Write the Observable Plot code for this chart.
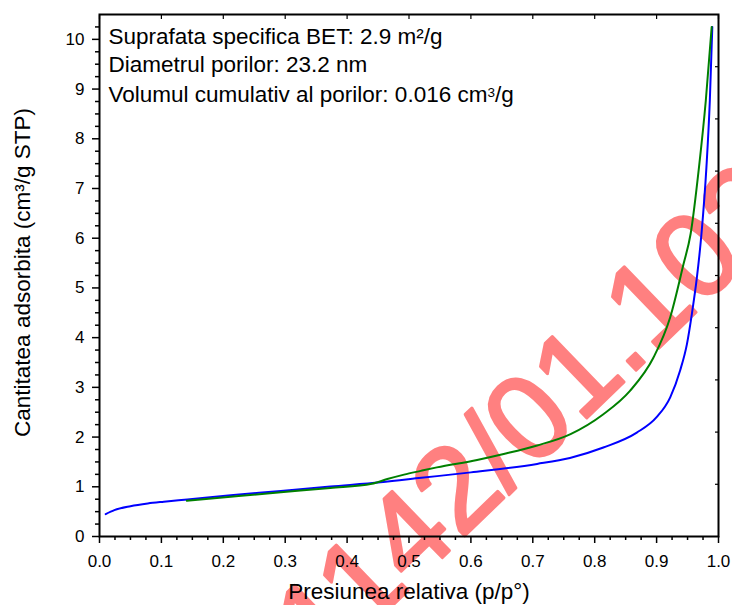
<!DOCTYPE html>
<html><head><meta charset="utf-8">
<script src="https://cdn.jsdelivr.net/npm/d3@7"></script>
<script src="https://cdn.jsdelivr.net/npm/@observablehq/plot@0.6"></script>
<style>body{margin:0;background:#fff} svg{display:block}</style>
</head><body><div id="chart"></div>
<script>
// Adsorption (blue)
const adsX = [0.010, 0.024, 0.050, 0.078, 0.104, 0.142, 0.212, 0.293, 0.373, 0.454, 0.520, 0.600, 0.707, 0.760, 0.814, 0.868, 0.900, 0.922, 0.938, 0.949, 0.957, 0.965, 0.9725, 0.9805, 0.986, 0.990];
const adsY = [0.45, 0.53, 0.61, 0.665, 0.70, 0.745, 0.83, 0.915, 1.005, 1.09, 1.18, 1.29, 1.46, 1.58, 1.79, 2.09, 2.40, 2.80, 3.34, 3.87, 4.48, 5.20, 6.09, 7.43, 8.77, 10.25];
// Desorption (green)
const desX = [0.141, 0.212, 0.293, 0.373, 0.440, 0.465, 0.492, 0.519, 0.545, 0.610, 0.653, 0.707, 0.761, 0.814, 0.857, 0.895, 0.922, 0.9435, 0.955, 0.9685, 0.9795, 0.989];
const desY = [0.72, 0.80, 0.89, 0.975, 1.06, 1.155, 1.245, 1.32, 1.39, 1.54, 1.66, 1.83, 2.06, 2.46, 2.93, 3.60, 4.41, 5.48, 6.09, 7.43, 8.77, 10.25];

const xTicks = [0, 0.1, 0.2, 0.3, 0.4, 0.5, 0.6, 0.7, 0.8, 0.9, 1.0];
const xTickLabels = ["0.0", "0.1", "0.2", "0.3", "0.4", "0.5", "0.6", "0.7", "0.8", "0.9", "1.0"];
const yTicks = [0, 1, 2, 3, 4, 5, 6, 7, 8, 9, 10];
const yTickLabels = ["0", "1", "2", "3", "4", "5", "6", "7", "8", "9", "10"];
const xDomain = [0, 1];
const yDomain = [0, 10.5];

const annotations = ["Suprafata specifica BET: 2.9 m²/g", "Diametrul porilor: 23.2 nm", "Volumul cumulativ al porilor: 0.016 cm³/g"];
const xTitle = "Presiunea relativa (p/p°)";
const yTitle = "Cantitatea adsorbita (cm³/g STP)";

const watermarkText = ["1142/01.102"];
const watermarkX = [0.3604];
const watermarkY = [-2.744];

const ads = adsX.map((x, i) => ({x, y: adsY[i]}));
const des = desX.map((x, i) => ({x, y: desY[i]}));
const wm = watermarkText.map((t, i) => ({t, x: watermarkX[i], y: watermarkY[i]}));

const xMinor = d3.range(0, 1.0001, 0.025).filter(v => Math.abs(v * 10 - Math.round(v * 10)) > 1e-6);
const yMinor = d3.range(0, 10.26, 0.25).filter(v => Math.abs(v - Math.round(v)) > 1e-6);
const yRight = d3.range(1, 10).map(i => i * 10.5 / 10);

const font = "Arial, 'Liberation Sans', sans-serif";

const plot = Plot.plot({
  width: 732, height: 605,
  marginLeft: 99, marginRight: 14, marginTop: 14, marginBottom: 69,
  style: {fontFamily: font, fontSize: "17px", color: "black", background: "white"},
  x: {domain: xDomain, label: null},
  y: {domain: yDomain, label: null},
  marks: [
    Plot.text(wm, {x: "x", y: "y", text: "t", rotate: -44, fontSize: 120, fill: "#ff8080", stroke: "#ff8080", strokeWidth: 3, strokeLinejoin: "round", textAnchor: "start", lineAnchor: "bottom"}),
    Plot.line(ads, {x: "x", y: "y", stroke: "#0000ff", strokeWidth: 2, curve: "monotone-x"}),
    Plot.line(des, {x: "x", y: "y", stroke: "#008000", strokeWidth: 2, curve: "monotone-x"}),
    Plot.axisX({ticks: xMinor, tickSize: 4, strokeWidth: 1.5, tickFormat: () => "", label: null}),
    Plot.axisX({ticks: xTicks, tickSize: 7, strokeWidth: 1.5, tickPadding: 11, tickFormat: (d, i) => xTickLabels[xTicks.indexOf(d)], fontSize: 17, fill: "black", label: null}),
    Plot.axisX({anchor: "top", ticks: xTicks, tickSize: 4, dy: 4, strokeWidth: 1.2, tickFormat: () => "", label: null}),
    Plot.axisY({ticks: yMinor, tickSize: 4, strokeWidth: 1.5, tickFormat: () => "", label: null}),
    Plot.axisY({ticks: yTicks, tickSize: 7, strokeWidth: 1.5, tickPadding: 8, tickFormat: d => yTickLabels[yTicks.indexOf(d)], fontSize: 17, fill: "black", label: null}),
    Plot.axisY({anchor: "right", ticks: yRight, tickSize: 4, dx: -4, strokeWidth: 1.2, tickFormat: () => "", label: null}),
    Plot.frame({stroke: "black", strokeWidth: 2}),
    Plot.text([annotations[0]], {frameAnchor: "top-left", dx: 9, dy: 29.5, fontSize: 22.5, textAnchor: "start", lineAnchor: "bottom", fill: "black"}),
    Plot.text([annotations[1]], {frameAnchor: "top-left", dx: 9, dy: 57.7, fontSize: 22.5, textAnchor: "start", lineAnchor: "bottom", fill: "black"}),
    Plot.text([annotations[2]], {frameAnchor: "top-left", dx: 9, dy: 87.7, fontSize: 22.5, textAnchor: "start", lineAnchor: "bottom", fill: "black"}),
    Plot.text([xTitle], {frameAnchor: "bottom", dy: 62.3, fontSize: 22.5, textAnchor: "middle", lineAnchor: "bottom", fill: "black"}),
    Plot.text([yTitle], {frameAnchor: "left", dx: -77, dy: -3, rotate: -90, fontSize: 22.5, textAnchor: "middle", lineAnchor: "middle", fill: "black"})
  ]
});

const svg = d3.select(plot);
// superscript 3 in the third annotation line
svg.selectAll("text").filter(function() { return this.textContent === annotations[2]; }).each(function() {
  const t = d3.select(this);
  t.text(null);
  t.append("tspan").text("Volumul cumulativ al porilor: 0.016 cm");
  t.append("tspan").attr("dy", -5).attr("font-size", 13.5).text("3");
  t.append("tspan").attr("dy", 5).text("/g");
});

document.getElementById("chart").appendChild(plot);
</script>
</body></html>
